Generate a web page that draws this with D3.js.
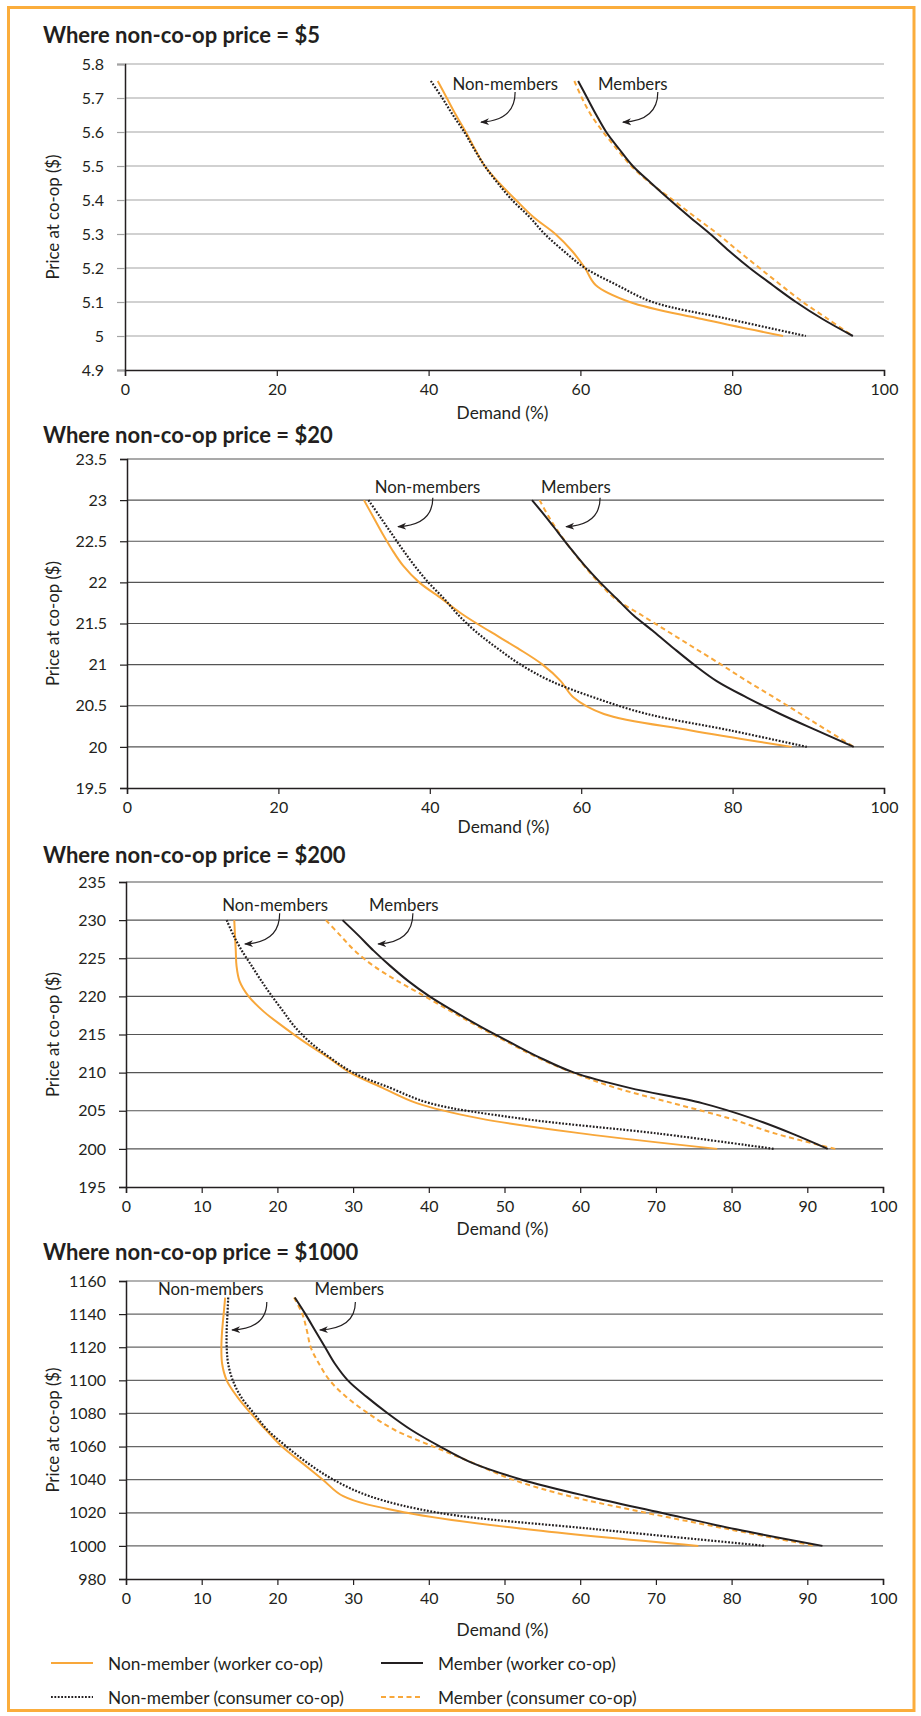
<!DOCTYPE html>
<html>
<head>
<meta charset="utf-8">
<script src="https://cdn.jsdelivr.net/npm/d3@7"></script>
<style>
body { margin: 0; background: #fff; }
text { font-family: Lato, "Open Sans", sans-serif; fill: #231f20; }
</style>
</head>
<body>
<div id="chart"></div>
<script>
// ---- data (demand %) ----
var xTicks20 = [0, 20, 40, 60, 80, 100];
var xTicks10 = [0, 10, 20, 30, 40, 50, 60, 70, 80, 90, 100];

// non-co-op price = $5
var price5 = [5.00, 5.05, 5.10, 5.15, 5.20, 5.25, 5.30, 5.35, 5.40, 5.45, 5.50, 5.55, 5.60, 5.65, 5.70, 5.75];
var nonWorker5 = [86.7, 76.0, 66.5, 62.0, 60.6, 58.9, 56.7, 53.8, 51.5, 49.3, 47.4, 46.1, 44.9, 43.6, 42.4, 41.2];
var nonConsumer5 = [89.7, 79.5, 69.5, 64.8, 60.6, 57.8, 55.3, 53.3, 51.0, 49.1, 47.4, 46.0, 44.7, 43.2, 41.8, 40.3];
var memWorker5 = [95.9, 91.9, 88.4, 85.3, 82.3, 79.6, 77.1, 74.4, 71.8, 69.3, 66.9, 65.1, 63.4, 62.1, 60.9, 59.7];
var memConsumer5 = [95.9, 92.6, 89.3, 86.4, 83.6, 80.8, 78.1, 75.1, 72.2, 69.2, 66.7, 64.8, 63.0, 61.4, 60.2, 59.2];
var yTicks5 = [4.9, 5.0, 5.1, 5.2, 5.3, 5.4, 5.5, 5.6, 5.7, 5.8];

// non-co-op price = $20
var price20 = [20.0, 20.2, 20.4, 20.6, 20.8, 21.0, 21.2, 21.4, 21.6, 21.8, 22.0, 22.2, 22.4, 22.6, 22.8, 23.0];
var nonWorker20 = [87.8, 74.5, 63.0, 59.0, 57.3, 54.9, 51.6, 48.0, 44.5, 41.6, 38.6, 36.5, 35.0, 33.7, 32.5, 31.3];
var nonConsumer20 = [89.8, 79.7, 68.7, 61.7, 56.0, 52.0, 48.9, 46.1, 43.8, 41.9, 39.8, 38.0, 36.4, 34.9, 33.4, 31.9];
var memWorker20 = [96.0, 91.1, 86.3, 81.9, 77.9, 74.9, 72.2, 69.6, 66.9, 64.7, 62.5, 60.5, 58.7, 57.0, 55.3, 53.5];
var memConsumer20 = [96.0, 92.5, 89.0, 85.5, 81.9, 78.5, 75.0, 71.5, 68.0, 64.5, 62.3, 60.4, 58.7, 57.1, 55.7, 54.5];
var yTicks20 = [19.5, 20, 20.5, 21, 21.5, 22, 22.5, 23, 23.5];

// non-co-op price = $200
var price200 = [200, 202, 204, 206, 208, 210, 212, 214, 216, 218, 220, 222, 224, 226, 228, 230];
var nonWorker200 = [78.1, 60.4, 46.7, 38.4, 33.9, 29.6, 26.7, 23.6, 20.8, 18.2, 16.2, 15.0, 14.6, 14.5, 14.4, 14.3];
var nonConsumer200 = [85.6, 70.4, 52.0, 40.1, 34.9, 30.0, 26.9, 24.3, 22.3, 20.8, 19.3, 17.9, 16.6, 15.3, 14.2, 13.3];
var memWorker200 = [92.7, 88.0, 82.7, 76.1, 66.5, 59.2, 54.6, 50.7, 46.9, 43.4, 40.1, 37.3, 34.9, 32.7, 30.7, 28.6];
var memConsumer200 = [93.7, 85.8, 79.7, 72.2, 64.7, 59.0, 54.3, 50.4, 46.6, 43.0, 39.5, 35.9, 32.7, 30.2, 28.3, 26.4];
var yTicks200 = [195, 200, 205, 210, 215, 220, 225, 230, 235];

// non-co-op price = $1000
var price1000 = [1000, 1010, 1020, 1030, 1040, 1050, 1060, 1070, 1080, 1090, 1100, 1110, 1120, 1130, 1140, 1150];
var nonWorker1000 = [75.6, 53.0, 37.1, 28.7, 26.0, 23.3, 20.6, 18.5, 16.5, 14.7, 13.3, 12.7, 12.6, 12.7, 12.9, 13.1];
var nonConsumer1000 = [84.5, 62.2, 41.3, 32.2, 27.4, 24.0, 21.2, 18.7, 16.9, 15.2, 14.1, 13.5, 13.3, 13.3, 13.4, 13.5];
var memWorker1000 = [92.0, 80.6, 70.7, 60.9, 52.3, 45.8, 41.5, 37.7, 34.6, 31.8, 29.3, 27.6, 26.3, 25.0, 23.7, 22.3];
var memConsumer1000 = [91.0, 79.7, 68.7, 58.6, 51.1, 45.9, 40.6, 35.5, 32.0, 29.1, 26.9, 25.5, 24.4, 23.9, 23.3, 22.2];
var yTicks1000 = [980, 1000, 1020, 1040, 1060, 1080, 1100, 1120, 1140, 1160];

var legendNames = ["Non-member (worker co-op)", "Member (worker co-op)",
                   "Non-member (consumer co-op)", "Member (consumer co-op)"];

// annotation anchors, in data units: label position, arrow start, arrow end
var notes5 = [["Non-members", 50.1, 5.744, 51.4, 5.718, 46.9, 5.632],
              ["Members", 66.9, 5.744, 70.2, 5.718, 65.6, 5.632]];
var notes20 = [["Non-members", 39.7, 23.16, 40.4, 23.03, 35.8, 22.69],
               ["Members", 59.3, 23.16, 62.5, 23.03, 58.0, 22.69]];
var notes200 = [["Non-members", 19.7, 232.1, 20.3, 230.9, 15.7, 227.0],
                ["Members", 36.7, 232.1, 37.9, 230.9, 33.3, 227.0]];
var notes1000 = [["Non-members", 11.2, 1155.2, 18.6, 1147.3, 14.0, 1131.0],
                 ["Members", 29.5, 1155.2, 30.3, 1147.3, 25.6, 1131.0]];

// ---- styles ----
var ORANGE = "#f8a73a";
var DARK = "#231f20";
var styles = {
  nw: {stroke: ORANGE, dash: null, width: 2},
  mc: {stroke: ORANGE, dash: "5,3.5", width: 2},
  nc: {stroke: DARK, dash: "1.8,1.6", width: 2.2},
  mw: {stroke: DARK, dash: null, width: 2}
};

var panels = [
  {title: "Where non-co-op price = $5", price: price5, nw: nonWorker5, nc: nonConsumer5, mw: memWorker5, mc: memConsumer5,
   yTicks: yTicks5, xTicks: xTicks20, notes: notes5,
   left: 125, right: 884, top: 64, bottom: 370, titleY: 43, demandOff: 42, grid: "#a3a3a3", tickCol: "#a3a3a3", tickLen: 8},
  {title: "Where non-co-op price = $20", price: price20, nw: nonWorker20, nc: nonConsumer20, mw: memWorker20, mc: memConsumer20,
   yTicks: yTicks20, xTicks: xTicks20, notes: notes20,
   left: 127, right: 884, top: 459, bottom: 788, titleY: 443, demandOff: 38, grid: "#555", tickCol: DARK, tickLen: 7},
  {title: "Where non-co-op price = $200", price: price200, nw: nonWorker200, nc: nonConsumer200, mw: memWorker200, mc: memConsumer200,
   yTicks: yTicks200, xTicks: xTicks10, notes: notes200,
   left: 126, right: 883, top: 882, bottom: 1187, titleY: 863, demandOff: 41, grid: "#555", tickCol: DARK, tickLen: 7},
  {title: "Where non-co-op price = $1000", price: price1000, nw: nonWorker1000, nc: nonConsumer1000, mw: memWorker1000, mc: memConsumer1000,
   yTicks: yTicks1000, xTicks: xTicks10, notes: notes1000,
   left: 126, right: 883, top: 1281, bottom: 1579, titleY: 1260, demandOff: 50, grid: "#666", tickCol: DARK, tickLen: 7}
];

var svg = d3.select("#chart").append("svg")
  .attr("width", 921)
  .attr("height", 1716);

svg.append("defs").append("marker")
  .attr("id", "arrowhead")
  .attr("viewBox", "0 0 10 10")
  .attr("refX", 9).attr("refY", 5)
  .attr("markerWidth", 9).attr("markerHeight", 9)
  .attr("markerUnits", "userSpaceOnUse")
  .attr("orient", "auto")
  .append("path")
  .attr("d", "M0,1.2 L10,5 L0,8.8 L2.8,5 Z")
  .attr("fill", DARK);

// orange frame
svg.append("rect")
  .attr("x", 8.5).attr("y", 7.5)
  .attr("width", 905.5).attr("height", 1703)
  .attr("fill", "none")
  .attr("stroke", "#fbad3c")
  .attr("stroke-width", 3);

panels.forEach(drawPanel);

function drawPanel(p) {
  var x = d3.scaleLinear().domain([0, 100]).range([p.left, p.right]);
  var y = d3.scaleLinear().domain([p.yTicks[0], p.yTicks[p.yTicks.length - 1]]).range([p.bottom, p.top]);
  var g = svg.append("g");

  g.append("text")
    .attr("x", 43).attr("y", p.titleY)
    .attr("font-size", 22).attr("font-weight", 700)
    .text(p.title);

  // gridlines
  g.append("g").selectAll("line")
    .data(p.yTicks.slice(1))
    .join("line")
      .attr("x1", p.left).attr("x2", p.right)
      .attr("y1", function(d) { return y(d); })
      .attr("y2", function(d) { return y(d); })
      .attr("stroke", p.grid)
      .attr("stroke-width", 1.2);

  var yAxis = g.append("g")
    .attr("transform", "translate(" + p.left + ",0)")
    .call(d3.axisLeft(y).tickValues(p.yTicks).tickFormat(d3.format("~g"))
      .tickSize(p.tickLen).tickPadding(13));
  yAxis.select(".domain").attr("stroke", DARK).attr("stroke-width", 1.5);
  yAxis.selectAll(".tick line").attr("stroke", p.tickCol).attr("stroke-width", 1.2);
  yAxis.selectAll("text").attr("font-size", 16).attr("font-family", "Lato").attr("fill", "#333");

  var xAxis = g.append("g")
    .attr("transform", "translate(0," + p.bottom + ")")
    .call(d3.axisBottom(x).tickValues(p.xTicks).tickSize(6).tickPadding(8));
  xAxis.select(".domain").attr("stroke", DARK).attr("stroke-width", 1.5);
  xAxis.selectAll(".tick line").attr("stroke", DARK).attr("stroke-width", 1.2);
  xAxis.selectAll("text").attr("font-size", 16).attr("font-family", "Lato").attr("fill", "#333");

  g.append("text")
    .attr("transform", "translate(52," + ((p.top + p.bottom) / 2) + ") rotate(-90)")
    .attr("text-anchor", "middle")
    .attr("dominant-baseline", "central")
    .attr("font-size", 16.8)
    .attr("fill", "#333")
    .text("Price at co-op ($)");

  g.append("text")
    .attr("x", (p.left + p.right) / 2 - 2)
    .attr("y", p.bottom + p.demandOff)
    .attr("text-anchor", "middle")
    .attr("dominant-baseline", "central")
    .attr("font-size", 17.3)
    .attr("fill", "#333")
    .text("Demand (%)");

  // curves, drawn from the highest price down
  ["nw", "mc", "nc", "mw"].forEach(function(key) {
    var vals = p[key];
    var pts = p.price.map(function(pr, i) { return [x(vals[i]), y(pr)]; }).reverse();
    var st = styles[key];
    g.append("path")
      .attr("d", d3.line().curve(d3.curveCatmullRom.alpha(0.5))(pts))
      .attr("fill", "none")
      .attr("stroke", st.stroke)
      .attr("stroke-width", st.width)
      .attr("stroke-dasharray", st.dash);
  });

  // annotations
  p.notes.forEach(function(n) {
    g.append("text")
      .attr("x", x(n[1])).attr("y", y(n[2]))
      .attr("text-anchor", "middle")
      .attr("dominant-baseline", "central")
      .attr("font-size", 16.8)
      .attr("fill", "#333")
      .text(n[0]);
    var sx = x(n[3]), sy = y(n[4]), ex = x(n[5]), ey = y(n[6]);
    var path = d3.path();
    path.moveTo(sx, sy);
    path.bezierCurveTo(sx, sy + (ey - sy) * 0.65, sx - (sx - ex) * 0.35, ey, ex, ey + 1);
    g.append("path")
      .attr("d", path.toString())
      .attr("fill", "none")
      .attr("stroke", DARK)
      .attr("stroke-width", 1.2)
      .attr("marker-end", "url(#arrowhead)");
  });
}

// legend
var legendItems = [
  {name: legendNames[0], st: styles.nw, x: 51, y: 1663},
  {name: legendNames[1], st: styles.mw, x: 381, y: 1663},
  {name: legendNames[2], st: styles.nc, x: 51, y: 1697},
  {name: legendNames[3], st: styles.mc, x: 381, y: 1697}
];
var lg = svg.append("g");
legendItems.forEach(function(d) {
  lg.append("line")
    .attr("x1", d.x).attr("x2", d.x + 42)
    .attr("y1", d.y).attr("y2", d.y)
    .attr("stroke", d.st.stroke)
    .attr("stroke-width", d.st.width)
    .attr("stroke-dasharray", d.st.dash);
  lg.append("text")
    .attr("x", d.x + 57).attr("y", d.y)
    .attr("dominant-baseline", "central")
    .attr("font-size", 17.3)
    .attr("fill", "#333")
    .text(d.name);
});
</script>
</body>
</html>
